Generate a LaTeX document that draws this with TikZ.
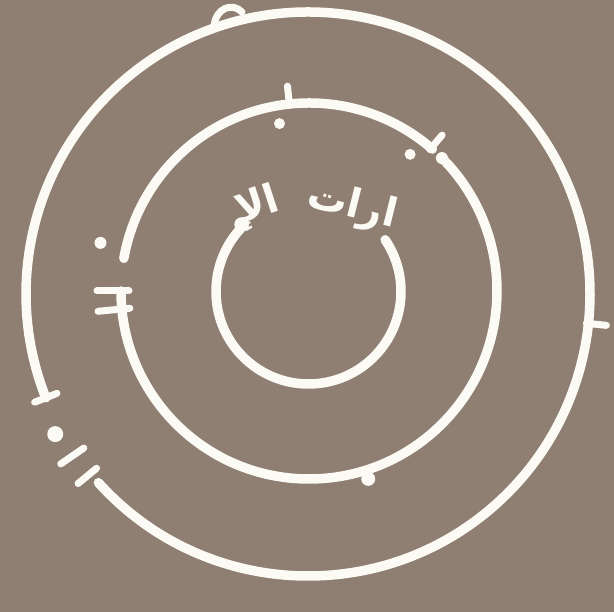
\documentclass[tikz,border=0pt]{standalone}
\usepackage{fontspec}
\usepackage{xcolor}
\usepackage{tikz}
\usetikzlibrary{positioning}
\newfontfamily\arabicfont[Script=Arabic]{DejaVu Sans}
\TeXXeTstate=1
\definecolor{bgbrown}{RGB}{143,127,114}
\definecolor{ringwhite}{RGB}{252,250,244}

\begin{document}
\begin{tikzpicture}[
        x=1pt, y=1pt,
        ring/.style={draw=ringwhite, line width=9.5pt, line cap=round},
        bar/.style={draw=ringwhite, line width=7pt, line cap=round},
        blob/.style={fill=ringwhite},
        word/.style={text=ringwhite, inner sep=0pt, font=\arabicfont\bfseries\fontsize{40}{40}\selectfont}
    ]
        \fill[bgbrown] (0,0) rectangle (614,612);
        \useasboundingbox (0,0) rectangle (614,612);

        % outer ring
        \begin{scope}[shift={(308,318)}]
            \draw[ring] (222:282) arc[start angle=222, end angle=561.6, radius=282pt];
            \draw[bar] (201.6:270) -- (201.6:294);
            \fill[blob] (209:289) circle[radius=8pt];
            \draw[bar] (214.5:272) -- (214.5:300);
            \draw[bar] (219.5:274) -- (219.5:298);
            \draw[bar] (-94,268) .. controls (-92,286) and (-76,292) .. (-66,282);
            \draw[bar] (-6:280) -- (-6:300);
        \end{scope}

        % middle ring
        \begin{scope}[shift={(309,321)}]
            \draw[ring] (180:188) arc[start angle=180, end angle=405, radius=188pt];
            \draw[ring] (409:188) arc[start angle=409, end angle=530, radius=188pt];
            \fill[blob] (167:214) circle[radius=6pt];
            \draw[bar] (180:180) -- (180:212);
            \draw[bar] (185.5:180) -- (185.5:212);
            \draw[bar] (49.5:186) -- (49.5:205);
            \fill[blob] (53.5:170) circle[radius=5.5pt];
            \fill[blob] (45:188) circle[radius=6pt];
            \draw[bar] (96:188) -- (96:206);
            \fill[blob] (100:170) circle[radius=5.5pt];
            \fill[blob] (287.5:197) circle[radius=7pt];
        \end{scope}

        % inner ring
        \begin{scope}[shift={(308.5,320.5)}]
            \draw[ring] (134:92.5) arc[start angle=134, end angle=394, radius=92.5pt];
            \fill[blob] (135:95) circle[radius=7pt];
        \end{scope}

        \node[word, rotate=-14] (wordR) at (352,405) {\beginR ارات\endR};
        \node[word, rotate=18] (wordL) at (258,405) {\beginR الإ\endR};
    \end{tikzpicture}
\end{document}
